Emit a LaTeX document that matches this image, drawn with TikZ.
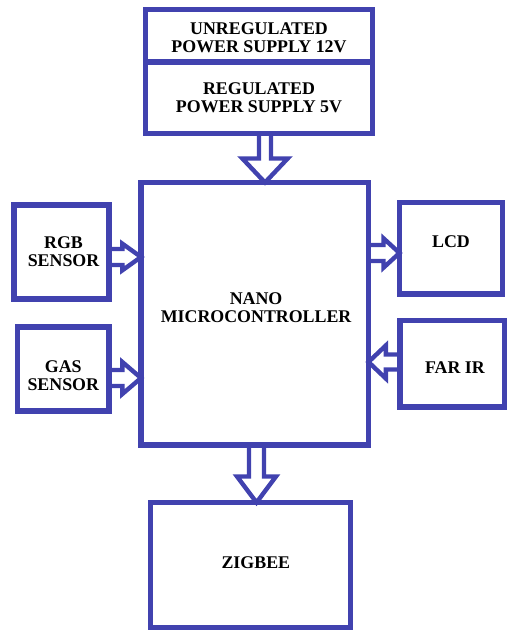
\documentclass[tikz,border=0pt]{standalone}
\usepackage{fontspec}
\setmainfont{Liberation Serif}
\usetikzlibrary{calc,fit}
\definecolor{bl}{RGB}{65,66,175}
\newcommand\lblfont{\fontsize{13.4}{13.5}\selectfont\bfseries}
\tikzset{
  box/.style={draw=bl, line width=3.9pt, outer sep=0pt, inner sep=0pt},
  txt/.style={font=\lblfont, align=center, inner sep=0pt},
  barrow/.style={draw=bl, line width=3.3pt, line join=miter, miter limit=10},
}
% horizontal block arrow: from anchor, to anchor, y-coordinate, shaft half, head half, head length
\newcommand\harr[6]{%
  \draw[barrow] let \p1=(#1 |- #3), \p2=(#2 |- #3), \n1={(\x2-\x1)/abs(\x2-\x1)} in
    (\x1,\y1+#4) -- (\x2-\n1*#6,\y1+#4) -- (\x2-\n1*#6,\y1+#5) -- (\x2,\y2)
    -- (\x2-\n1*#6,\y1-#5) -- (\x2-\n1*#6,\y1-#4) -- (\x1,\y1-#4);}
% vertical (downward) block arrow
\newcommand\varr[6]{%
  \draw[barrow] let \p1=(#1 -| #3), \p2=(#2 -| #3) in
    (\x1-#4,\y1) -- (\x1-#4,\y2+#6) -- (\x1-#5,\y2+#6) -- (\x2,\y2)
    -- (\x1+#5,\y2+#6) -- (\x1+#4,\y2+#6) -- (\x1+#4,\y1);}
\begin{document}
\begin{tikzpicture}[x=0.75pt,y=-0.75pt]
\useasboundingbox (0,0) rectangle (509,630);

\node[box, fit={(145.5,9.5) (372.5,62)},
      label={[txt, yshift=-1.5pt]center:UNREGULATED\\POWER SUPPLY 12V}] (unreg) {};
\node[box, fit={(145.5,62) (372.5,133.5)},
      label={[txt]center:REGULATED\\POWER SUPPLY 5V}] (reg) {};
\node[box, fit={(141,182.5) (368.5,445)},
      label={[txt, yshift=4.5pt, xshift=1pt]center:NANO\\MICROCONTROLLER}] (mc) {};
\node[box, fit={(14,205) (109,299)},
      label={[txt, xshift=1.5pt]center:RGB\\SENSOR}] (rgb) {};
\node[box, fit={(17.5,327) (109,411)},
      label={[txt, yshift=-5pt]center:GAS\\SENSOR}] (gas) {};
\node[box, fit={(399.5,202.5) (502.5,294)},
      label={[txt, yshift=5pt]center:LCD}] (lcd) {};
\node[box, fit={(400,320.5) (504.5,407)},
      label={[txt, yshift=-3pt, xshift=2pt]center:FAR IR}] (farir) {};
\node[box, fit={(150.5,502.5) (350.5,627.5)},
      label={[txt, yshift=2pt, xshift=4pt]center:ZIGBEE}] (zig) {};

\coordinate (ax1) at (265,0);
\coordinate (ax2) at (256.5,0);
\coordinate (ay1) at (0,257);
\coordinate (ay2) at (0,378);
\coordinate (ay3) at (0,253);
\coordinate (ay4) at (0,362);

\varr{reg.south}{mc.north}{ax1}{4.5pt}{17pt}{18pt}
\varr{mc.south}{zig.north}{ax2}{5.6pt}{14.6pt}{19.5pt}
\harr{rgb.east}{mc.west}{ay1}{6pt}{10pt}{14pt}
\harr{gas.east}{mc.west}{ay2}{6pt}{12pt}{14pt}
\harr{mc.east}{lcd.west}{ay3}{6pt}{11pt}{12pt}
\harr{farir.west}{mc.east}{ay4}{5.6pt}{12.4pt}{13pt}
\end{tikzpicture}
\end{document}
